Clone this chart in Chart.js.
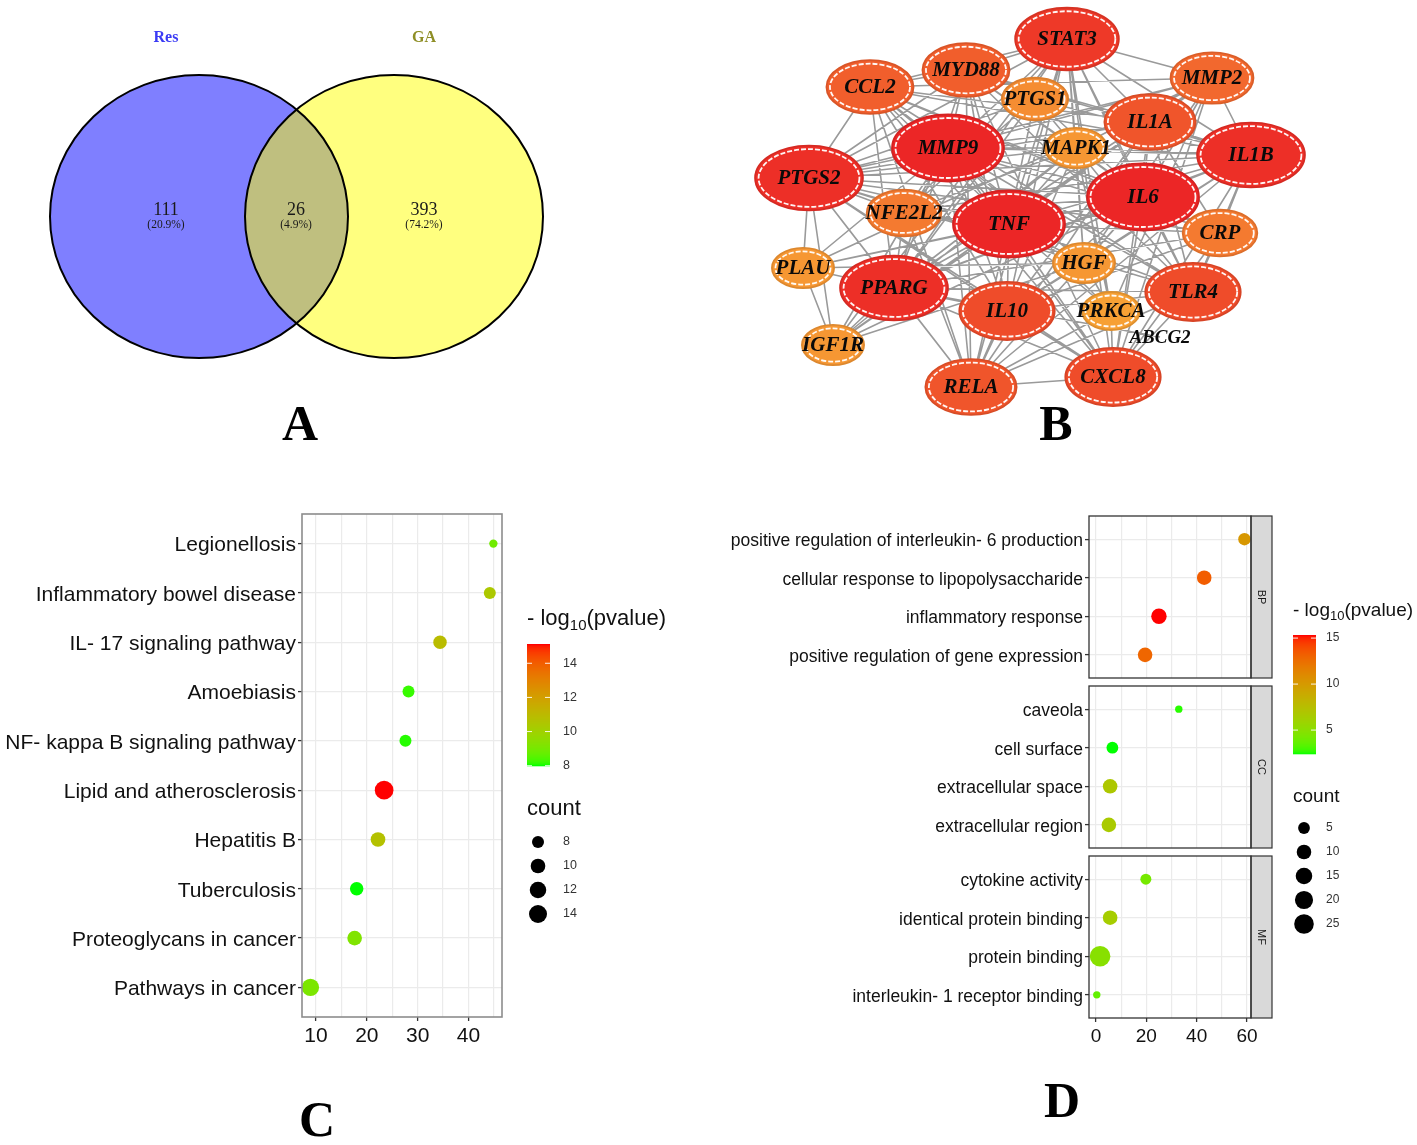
<!DOCTYPE html>
<html><head><meta charset="utf-8"><title>Figure</title>
<script src="https://cdn.jsdelivr.net/npm/chart.js@4.4.1/dist/chart.umd.min.js"></script>
<style>
html,body{margin:0;padding:0;background:#ffffff;}
#fig{position:relative;width:1417px;height:1145px;overflow:hidden;background:#ffffff;}
#fig canvas{position:absolute;left:0;top:0;}
</style></head>
<body><div id="fig">
<canvas id="chartA" width="1417" height="1145"></canvas>
<canvas id="chartB" width="1417" height="1145"></canvas>
<canvas id="chartC" width="1417" height="1145"></canvas>
<canvas id="chartBP" width="1417" height="1145"></canvas>
<canvas id="chartCC" width="1417" height="1145"></canvas>
<canvas id="chartMF" width="1417" height="1145"></canvas>
</div>
<script>
// ================= DATA =================
// Panel A: Venn
const vennSetNames = ['Res', 'GA'];
const vennRegionCounts = [111, 26, 393]; // Res only, shared, GA only

// Panel B: PPI network
const geneNames = ['STAT3','MYD88','CCL2','MMP2','PTGS1','IL1A','MMP9','MAPK1','IL1B','PTGS2','IL6','NFE2L2','TNF','CRP','PLAU','HGF','PPARG','TLR4','IL10','PRKCA','ABCG2','IGF1R','RELA','CXCL8'];
const geneDegree = [20,16,16,15,11,17,22,10,21,21,22,13,22,13,10,10,21,18,18,9,1,10,17,18];
const geneEdges = [
 'TNF IL6 IL1B STAT3 MMP9 PTGS2 PPARG IL10 CCL2 MYD88 IL1A TLR4 CXCL8 RELA NFE2L2 CRP MMP2 HGF MAPK1 PTGS1 PLAU IGF1R PRKCA',
 'IL6 IL1B STAT3 MMP9 PTGS2 PPARG IL10 CCL2 MYD88 IL1A TLR4 CXCL8 RELA NFE2L2 CRP MMP2 HGF MAPK1 PTGS1 IGF1R PLAU',
 'MMP9 IL1B STAT3 PTGS2 PPARG IL10 CCL2 MYD88 IL1A TLR4 CXCL8 RELA NFE2L2 CRP MMP2 HGF MAPK1 PLAU IGF1R PRKCA',
 'IL1B STAT3 PTGS2 PPARG IL10 CCL2 MYD88 IL1A TLR4 CXCL8 RELA NFE2L2 CRP MMP2 HGF MAPK1 PTGS1',
 'PTGS2 STAT3 PPARG IL10 CCL2 MYD88 IL1A TLR4 CXCL8 RELA NFE2L2 CRP MMP2 HGF MAPK1 PTGS1 PLAU IGF1R',
 'STAT3 PPARG IL10 CCL2 MYD88 IL1A TLR4 CXCL8 RELA NFE2L2 MMP2 HGF MAPK1 PRKCA IGF1R',
 'PPARG IL10 CCL2 MYD88 TLR4 CXCL8 RELA NFE2L2 CRP MMP2 MAPK1 PTGS1 PLAU IGF1R ABCG2',
 'IL10 CCL2 MYD88 IL1A TLR4 CXCL8 RELA CRP HGF',
 'TLR4 MYD88 CCL2 IL1A CXCL8 RELA CRP MAPK1',
 'CXCL8 CCL2 MYD88 IL1A RELA CRP MMP2 PRKCA',
 'RELA MYD88 IL1A CCL2 NFE2L2 MAPK1 PRKCA',
 'CCL2 MYD88 IL1A CRP MMP2 HGF',
 'MYD88 IL1A MAPK1',
 'IL1A MMP2 CRP',
 'MMP2 HGF PLAU IGF1R PRKCA MAPK1',
 'MAPK1 HGF IGF1R PRKCA PTGS1 NFE2L2',
 'HGF IGF1R PLAU PRKCA',
 'PLAU IGF1R',
 'NFE2L2 PTGS1'
];

// Panel C: KEGG bubble plot
const keggTerms = ['Legionellosis','Inflammatory bowel disease','IL- 17 signaling pathway','Amoebiasis','NF- kappa B signaling pathway','Lipid and atherosclerosis','Hepatitis B','Tuberculosis','Proteoglycans in cancer','Pathways in cancer'];
const keggX = [44.9, 44.2, 34.4, 28.2, 27.6, 23.4, 22.2, 18.0, 17.6, 8.9];
const keggCount = [7, 8, 9, 8, 8, 15, 10, 9, 10, 13];
const keggLogP = [8.9, 10.4, 10.9, 8.2, 8.1, 15.1, 10.7, 8.0, 9.2, 9.1];
const keggXTicks = [10, 20, 30, 40];
const keggColorTicks = [8, 10, 12, 14];
const keggSizeTicks = [8, 10, 12, 14];

// Panel D: GO bubble plot (facets BP / CC / MF)
const goBPTerms = ['positive regulation of interleukin- 6 production','cellular response to lipopolysaccharide','inflammatory response','positive regulation of gene expression'];
const goBPX = [59.0, 43.0, 25.0, 19.5];
const goBPCount = [6, 10, 12, 10];
const goBPLogP = [10.2, 13.3, 15.3, 12.9];
const goCCTerms = ['caveola','cell surface','extracellular space','extracellular region'];
const goCCX = [32.9, 6.5, 5.6, 5.1];
const goCCCount = [2, 5, 10, 10];
const goCCLogP = [2.6, 2.4, 6.8, 6.6];
const goMFTerms = ['cytokine activity','identical protein binding','protein binding','interleukin- 1 receptor binding'];
const goMFX = [19.8, 5.6, 1.6, 0.3];
const goMFCount = [4, 10, 29, 2];
const goMFLogP = [4.2, 6.4, 4.9, 3.6];
const goXTicks = [0, 20, 40, 60];
const goColorTicks = [5, 10, 15];
const goSizeTicks = [5, 10, 15, 20, 25];

// ================= LAYOUT (not data) =================
const W = 1417, H = 1145;
const SANS = '"Liberation Sans", Arial, Helvetica, sans-serif';
const SERIF = '"Liberation Serif", "Times New Roman", serif';
const vennLayout = {centers: [[199, 216.5], [394, 216.5]], rx: 149, ry: 141.5,
  titleX: [166, 424], titleY: 38, countX: [166, 296, 424], countY: 210, pctY: 225};
const geneLayout = [[1067,39],[966,70],[870,87],[1212,78],[1035,99],[1150,122],[948,148],[1076,148],[1251,155],[809,178],[1143,197],[904,213],[1009,224],[1220,233],[803,268],[1084,263],[894,288],[1193,292],[1007,311],[1111,311],[1160,337],[833,345],[971,387],[1113,377]];

// ================= COLOUR / SIZE SCALES =================
function s2l(c){c/=255;return c<=0.04045?c/12.92:Math.pow((c+0.055)/1.055,2.4);}
function l2s(c){c=Math.max(0,Math.min(1,c));return Math.round(255*(c<=0.0031308?12.92*c:1.055*Math.pow(c,1/2.4)-0.055));}
function rgb2lab(rgb){const r=s2l(rgb[0]),g=s2l(rgb[1]),b=s2l(rgb[2]);
  const X=(0.4124*r+0.3576*g+0.1805*b)/0.95047,Y=0.2126*r+0.7152*g+0.0722*b,Z=(0.0193*r+0.1192*g+0.9505*b)/1.08883;
  const f=t=>t>0.008856?Math.cbrt(t):7.787*t+16/116;const fx=f(X),fy=f(Y),fz=f(Z);
  return [116*fy-16,500*(fx-fy),200*(fy-fz)];}
function lab2rgb(lab){const fy=(lab[0]+16)/116,fx=fy+lab[1]/500,fz=fy-lab[2]/200;
  const fi=t=>t*t*t>0.008856?t*t*t:(t-16/116)/7.787;
  const X=fi(fx)*0.95047,Y=fi(fy),Z=fi(fz)*1.08883;
  const r=3.2406*X-1.5372*Y-0.4986*Z,g=-0.9689*X+1.8758*Y+0.0415*Z,b=0.0557*X-0.2040*Y+1.0570*Z;
  return 'rgb('+l2s(r)+','+l2s(g)+','+l2s(b)+')';}
const LAB_LO = rgb2lab([0,255,0]), LAB_HI = rgb2lab([255,0,0]);
function grad(t){t=Math.max(0,Math.min(1,t));return lab2rgb([0,1,2].map(k=>LAB_LO[k]+(LAB_HI[k]-LAB_LO[k])*t));}

const kMinP = Math.min(...keggLogP), kMaxP = Math.max(...keggLogP);
const kMinC = Math.min(...keggCount), kMaxC = Math.max(...keggCount);
const keggColor = v => grad((v-kMinP)/(kMaxP-kMinP));
const keggR = c => 4.17 + 5.16*Math.sqrt(Math.max(0,c-kMinC)/(kMaxC-kMinC));

const goAllP = goBPLogP.concat(goCCLogP, goMFLogP), goAllC = goBPCount.concat(goCCCount, goMFCount);
const gMinP = Math.min(...goAllP), gMaxP = Math.max(...goAllP);
const gMinC = Math.min(...goAllC), gMaxC = Math.max(...goAllC);
const goColor = v => grad((v-gMinP)/(gMaxP-gMinP));
const goR = c => 3.7 + 6.6*Math.sqrt(Math.max(0,c-gMinC)/(gMaxC-gMinC));

// ================= SHARED PLUGINS =================
const letterPlugin = {id:'panelLetter', afterDraw(chart, args, o){
  if(!o || !o.text) return; const ctx=chart.ctx; ctx.save();
  ctx.font='bold 50px '+SERIF; ctx.fillStyle='#000'; ctx.textAlign='center'; ctx.textBaseline='middle';
  ctx.fillText(o.text, o.x, o.y); ctx.restore();}};

const boxPlugin = {id:'panelBox', afterDatasetsDraw(chart, args, o){
  const a=chart.chartArea, ctx=chart.ctx; ctx.save();
  if(o.strip){
    ctx.fillStyle='#d9d9d9'; ctx.fillRect(a.right, a.top, 21, a.bottom-a.top);
    ctx.strokeStyle='#333333'; ctx.lineWidth=1.2; ctx.strokeRect(a.right, a.top, 21, a.bottom-a.top);
    ctx.save();
    ctx.translate(a.right+10.5, (a.top+a.bottom)/2); ctx.rotate(Math.PI/2);
    ctx.fillStyle='#1a1a1a'; ctx.font='11px '+SANS; ctx.textAlign='center'; ctx.textBaseline='middle';
    ctx.fillText(o.strip, 0, 0);
    ctx.restore();
  }
  ctx.strokeStyle=o.color; ctx.lineWidth=o.width;
  ctx.strokeRect(a.left, a.top, a.right-a.left, a.bottom-a.top);
  ctx.restore();}};

function drawLogTitle(ctx, x, y, size){
  ctx.textBaseline='middle'; ctx.textAlign='left'; ctx.fillStyle='#111111';
  ctx.font=size+'px '+SANS; ctx.fillText('- log', x, y); let w=ctx.measureText('- log').width;
  const s2=Math.round(size*0.68); ctx.font=s2+'px '+SANS; ctx.fillText('10', x+w, y+size*0.3); w+=ctx.measureText('10').width;
  ctx.font=size+'px '+SANS; ctx.fillText('(pvalue)', x+w, y);
}
function drawLegend(ctx, L){
  drawLogTitle(ctx, L.x, L.titleY, L.titleSize);
  const yb = v => L.barBottom - (v-L.vmin)*L.ppu;
  const top = yb(L.vmax);
  for(let py=Math.floor(top); py<L.barBottom; py++){
    const v = L.vmin + (L.barBottom-py-0.5)/L.ppu;
    ctx.fillStyle=L.colFn(v); ctx.fillRect(L.x, py, L.barW, 1.3);
  }
  ctx.strokeStyle='rgba(255,255,255,0.9)'; ctx.lineWidth=1;
  ctx.fillStyle='#333333'; ctx.font=L.labSize+'px '+SANS; ctx.textAlign='left'; ctx.textBaseline='middle';
  L.colorTicks.forEach(v=>{const y=yb(v);
    ctx.beginPath(); ctx.moveTo(L.x,y); ctx.lineTo(L.x+5,y); ctx.moveTo(L.x+L.barW-5,y); ctx.lineTo(L.x+L.barW,y); ctx.stroke();
    ctx.fillText(String(v), L.labX, y);});
  ctx.fillStyle='#111111'; ctx.font=L.titleSize+'px '+SANS; ctx.fillText('count', L.x, L.countY);
  L.sizeTicks.forEach((c,i)=>{const y=L.dotY[i];
    ctx.fillStyle='#000'; ctx.beginPath(); ctx.arc(L.dotX, y, L.rFn(c), 0, Math.PI*2); ctx.fill();
    ctx.fillStyle='#333333'; ctx.font=L.labSize+'px '+SANS; ctx.fillText(String(c), L.labX, y);});
}

const baseOpts = {responsive:false, animation:false, events:[], devicePixelRatio:1};

// ================= PANEL A: VENN =================
const vennPlugin = {id:'venn', afterDatasetsDraw(chart){
  const ctx=chart.ctx, xs=chart.scales.x, ys=chart.scales.y;
  const pts=chart.getDatasetMeta(0).data;
  const rx=xs.getPixelForValue(vennLayout.rx)-xs.getPixelForValue(0);
  const ry=ys.getPixelForValue(vennLayout.ry)-ys.getPixelForValue(0);
  ctx.save();
  const fills=['rgb(0,0,255)','rgb(255,255,0)'];
  ctx.globalAlpha=0.5;
  pts.forEach((p,i)=>{ctx.fillStyle=fills[i]; ctx.beginPath(); ctx.ellipse(p.x,p.y,Math.abs(rx),Math.abs(ry),0,0,Math.PI*2); ctx.fill();});
  ctx.globalAlpha=1; ctx.strokeStyle='#000'; ctx.lineWidth=2;
  pts.forEach(p=>{ctx.beginPath(); ctx.ellipse(p.x,p.y,Math.abs(rx),Math.abs(ry),0,0,Math.PI*2); ctx.stroke();});
  ctx.textAlign='center'; ctx.textBaseline='middle';
  const tcol=['#3b3bf5','#8e8e26'];
  vennSetNames.forEach((n,i)=>{ctx.fillStyle=tcol[i]; ctx.font='bold 16px '+SERIF;
    ctx.fillText(n, xs.getPixelForValue(vennLayout.titleX[i]), ys.getPixelForValue(vennLayout.titleY));});
  const total=vennRegionCounts.reduce((a,b)=>a+b,0);
  vennRegionCounts.forEach((c,i)=>{ctx.fillStyle='#1a1a1a';
    const x=xs.getPixelForValue(vennLayout.countX[i]);
    ctx.font='18px '+SERIF; ctx.fillText(String(c), x, ys.getPixelForValue(vennLayout.countY));
    ctx.font='11.5px '+SERIF; ctx.fillText('('+(c/total*100).toFixed(1)+'%)', x, ys.getPixelForValue(vennLayout.pctY));});
  ctx.restore();}};
new Chart(document.getElementById('chartA'), {
  type:'scatter',
  data:{datasets:[{data:vennLayout.centers.map(c=>({x:c[0],y:c[1]})), pointRadius:0, showLine:false}]},
  options:Object.assign({}, baseOpts, {layout:{padding:0},
    plugins:{legend:{display:false}, tooltip:{enabled:false}, panelLetter:{text:'A', x:300, y:427}},
    scales:{x:{display:false,min:0,max:W}, y:{display:false,min:0,max:H,reverse:true}}}),
  plugins:[vennPlugin, letterPlugin]
});

// ================= PANEL B: NETWORK =================
const edgePts=[];
geneEdges.forEach(s=>{const t=s.split(' '); const a=geneNames.indexOf(t[0]);
  t.slice(1).forEach(nm=>{const b=geneNames.indexOf(nm);
    edgePts.push({x:geneLayout[a][0],y:geneLayout[a][1]},{x:geneLayout[b][0],y:geneLayout[b][1]},{x:null,y:null});});});
function nodeStyle(deg){const t=Math.max(0,Math.min(1,(deg-9)/13));
  const c0=[247,160,52], c1=[236,38,38];
  const c=c0.map((v,k)=>Math.round(v+(c1[k]-v)*t));
  const d=c.map(v=>Math.round(v*0.9));
  return {fill:'rgb('+c.join(',')+')', ring:'rgb('+d.join(',')+')', rx:29+t*27, ry:19+t*14.5};}
const netPlugin = {id:'net', afterDatasetsDraw(chart){
  const ctx=chart.ctx, pts=chart.getDatasetMeta(1).data; ctx.save();
  pts.forEach((p,i)=>{const deg=geneDegree[i];
    if(deg>=5){const s=nodeStyle(deg);
      ctx.beginPath(); ctx.ellipse(p.x,p.y,s.rx,s.ry,0,0,Math.PI*2); ctx.fillStyle=s.fill; ctx.fill();
      ctx.lineWidth=1.8; ctx.strokeStyle=s.ring; ctx.stroke();
      ctx.beginPath(); ctx.ellipse(p.x,p.y,s.rx-3.5,s.ry-3.5,0,0,Math.PI*2);
      ctx.setLineDash([5,2]); ctx.lineWidth=1.8; ctx.strokeStyle='rgba(255,255,255,0.95)'; ctx.stroke(); ctx.setLineDash([]);}
  });
  ctx.fillStyle='#0a0a0a'; ctx.textAlign='center'; ctx.textBaseline='middle';
  pts.forEach((p,i)=>{
    ctx.font='italic bold '+(geneDegree[i]>=5?21:19)+'px '+SERIF;
    ctx.fillText(geneNames[i], p.x, p.y+1);});
  ctx.restore();}};
new Chart(document.getElementById('chartB'), {
  type:'scatter',
  data:{datasets:[
    {data:edgePts, showLine:true, spanGaps:false, pointRadius:0, borderColor:'#9a9a9a', borderWidth:1.6},
    {data:geneLayout.map(p=>({x:p[0],y:p[1]})), pointRadius:0, showLine:false}]},
  options:Object.assign({}, baseOpts, {layout:{padding:0},
    plugins:{legend:{display:false}, tooltip:{enabled:false}, panelLetter:{text:'B', x:1056, y:427}},
    scales:{x:{display:false,min:0,max:W}, y:{display:false,min:0,max:H,reverse:true}}}),
  plugins:[netPlugin, letterPlugin]
});

// ================= DOT CHART FACTORY =================
function makeDotChart(id, o){
  const n=o.terms.length;
  return new Chart(document.getElementById(id), {
    type:'bubble',
    data:{datasets:[{
      data:o.terms.map((t,i)=>({x:o.xs[i], y:i, r:o.rFn(o.counts[i])})),
      backgroundColor:o.logp.map(o.colFn), borderWidth:0, hoverBorderWidth:0, clip:false}]},
    options:Object.assign({}, baseOpts, {
      layout:{padding:{left:0, top:o.area.t, right:W-o.area.r, bottom:H-o.area.b-(o.showX?o.xH:0)}},
      plugins:{legend:{display:false}, tooltip:{enabled:false},
        panelBox:{color:o.boxColor, width:o.boxWidth, strip:o.strip||null},
        panelLetter:o.letter||{}},
      scales:{
        x:{type:'linear', min:o.xMin, max:o.xMax,
          afterBuildTicks:s=>{s.ticks=o.grid.map(v=>({value:v}));},
          afterFit:s=>{s.height=o.showX?o.xH:0;},
          ticks:{display:o.showX, autoSkip:false, maxRotation:0, padding:3,
            font:{family:SANS, size:o.xFont}, color:'#111111',
            callback:v=>o.labels.includes(v)?String(v):''},
          grid:{color:'#ebebeb', lineWidth:1.2, drawTicks:o.showX, tickLength:4, tickWidth:1.3,
            tickColor:c=>(c.tick && o.labels.includes(c.tick.value))?'#333333':'rgba(0,0,0,0)'},
          border:{display:false}},
        y:{type:'linear', reverse:true, min:-0.6, max:n-0.4,
          afterBuildTicks:s=>{s.ticks=o.terms.map((t,i)=>({value:i}));},
          afterFit:s=>{s.width=o.area.l;},
          ticks:{autoSkip:false, padding:2, labelOffset:2, font:{family:SANS, size:o.yFont}, color:'#111111',
            callback:v=>o.terms[v]},
          grid:{color:'#ebebeb', lineWidth:1.2, tickLength:4, tickWidth:1.3, tickColor:'#333333'},
          border:{display:false}}
      }}),
    plugins:[boxPlugin, letterPlugin].concat(o.extra||[])
  });
}

// ================= PANEL C =================
const keggLegendPlugin = {id:'keggLegend', afterDraw(chart){
  const ctx=chart.ctx; ctx.save();
  drawLegend(ctx, {x:527, titleY:619, titleSize:22, barW:23, barBottom:765.7, ppu:17.07,
    vmin:kMinP, vmax:kMaxP, colFn:keggColor, colorTicks:keggColorTicks, labX:563, labSize:12.5,
    countY:809, sizeTicks:keggSizeTicks, dotX:538, dotY:[842,866,890,914], rFn:keggR});
  ctx.restore();}};
makeDotChart('chartC', {terms:keggTerms, xs:keggX, counts:keggCount, logp:keggLogP,
  rFn:keggR, colFn:keggColor, area:{l:302, t:514, r:502, b:1017}, xMin:7.24, xMax:46.6,
  grid:[10,15,20,25,30,35,40,45], labels:keggXTicks, showX:true, xH:34, xFont:21, yFont:21,
  boxColor:'#8c8c8c', boxWidth:1.6, letter:{text:'C', x:317, y:1123}, extra:[keggLegendPlugin]});

// ================= PANEL D =================
const goLegendPlugin = {id:'goLegend', afterDraw(chart){
  const ctx=chart.ctx; ctx.save();
  drawLegend(ctx, {x:1293, titleY:611, titleSize:19, barW:23, barBottom:754, ppu:9.2,
    vmin:gMinP, vmax:gMaxP, colFn:goColor, colorTicks:goColorTicks, labX:1326, labSize:12,
    countY:797, sizeTicks:goSizeTicks, dotX:1304, dotY:[828,852,876,900,924], rFn:goR});
  ctx.restore();}};
const goCommon = {rFn:goR, colFn:goColor, xMin:-2.8, xMax:61.6, grid:[0,10,20,30,40,50,60],
  labels:goXTicks, xH:34, xFont:19, yFont:17.5, boxColor:'#333333', boxWidth:1.3};
makeDotChart('chartBP', Object.assign({}, goCommon, {terms:goBPTerms, xs:goBPX, counts:goBPCount, logp:goBPLogP,
  area:{l:1089, t:516, r:1251, b:678}, showX:false, strip:'BP', extra:[goLegendPlugin]}));
makeDotChart('chartCC', Object.assign({}, goCommon, {terms:goCCTerms, xs:goCCX, counts:goCCCount, logp:goCCLogP,
  area:{l:1089, t:686, r:1251, b:848}, showX:false, strip:'CC'}));
makeDotChart('chartMF', Object.assign({}, goCommon, {terms:goMFTerms, xs:goMFX, counts:goMFCount, logp:goMFLogP,
  area:{l:1089, t:856, r:1251, b:1018}, showX:true, strip:'MF', letter:{text:'D', x:1062, y:1104}}));
</script>
</body></html>
